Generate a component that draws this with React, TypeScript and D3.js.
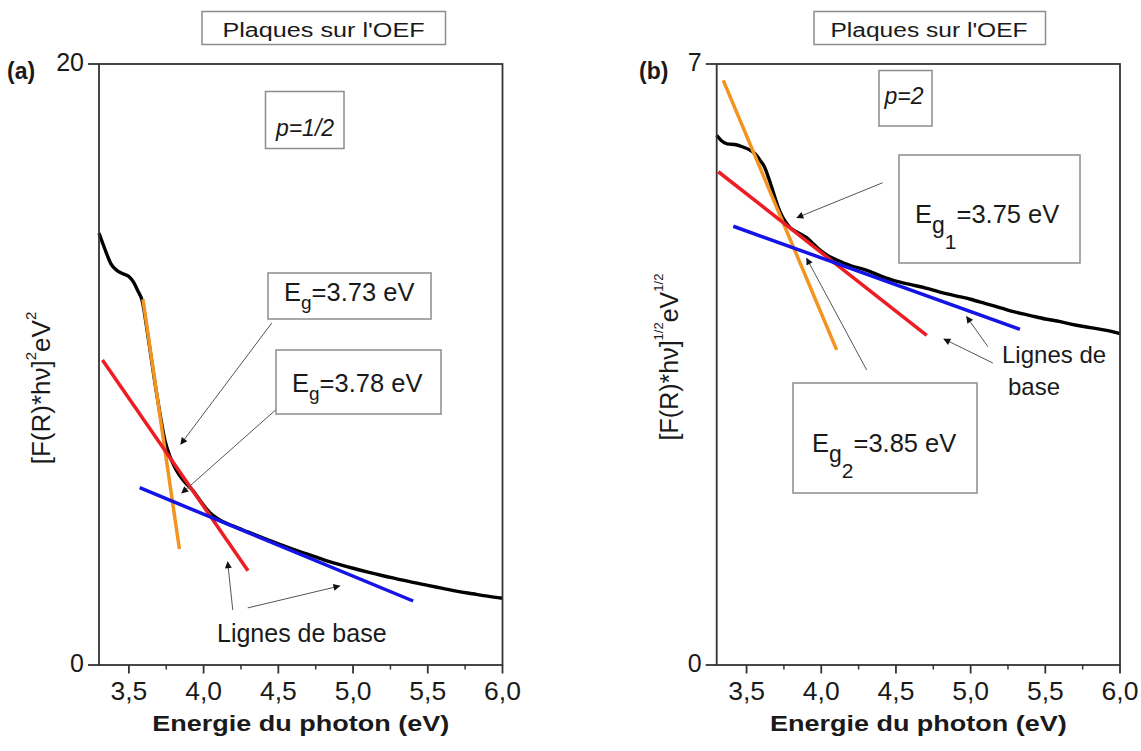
import React from "react";
import * as d3 from "d3";

// ---------- shared axis data ----------
const xDomain: [number, number] = [3.3, 6.0];
const xTickValues = [3.5, 4.0, 4.5, 5.0, 5.5, 6.0];
const xMinorValues = [3.75, 4.25, 4.75, 5.25, 5.75];
const xTickLabels = ["3,5", "4,0", "4,5", "5,0", "5,5", "6,0"];
const xAxisTitle = "Energie du photon (eV)";
const boxTitle = "Plaques sur l'OEF";

// ---------- panel (a) data : p = 1/2 ----------
const aYDomain: [number, number] = [0, 20];
const aYTicks = [0, 20];
const aCurveX = [3.3, 3.32, 3.35, 3.38, 3.42, 3.46, 3.5, 3.53, 3.56, 3.59, 3.62, 3.65, 3.68, 3.71, 3.74, 3.77, 3.8, 3.84, 3.88, 3.93, 3.98, 4.04, 4.1, 4.2, 4.3, 4.4, 4.5, 4.6, 4.7, 4.8, 4.9, 5.0, 5.1, 5.2, 5.3, 5.4, 5.5, 5.6, 5.7, 5.8, 5.9, 6.0];
const aCurveY = [14.37, 14.1, 13.7, 13.35, 13.13, 13.02, 12.93, 12.75, 12.45, 12.1, 11.2, 10.2, 9.2, 8.3, 7.5, 7.0, 6.65, 6.3, 6.05, 5.8, 5.45, 5.08, 4.85, 4.62, 4.42, 4.22, 4.03, 3.85, 3.68, 3.51, 3.36, 3.22, 3.09, 2.97, 2.86, 2.75, 2.65, 2.55, 2.45, 2.37, 2.29, 2.22];
const aOrangeX = [3.594, 3.838];
const aOrangeY = [12.17, 3.86];
const aRedX = [3.323, 4.297];
const aRedY = [10.15, 3.14];
const aBlueX = [3.572, 5.402];
const aBlueY = [5.9, 2.13];
// annotation arrows (data units): [x0, y0, x1, y1]
const aArrows = [
  [4.456, 11.38, 3.847, 7.35],
  [4.496, 8.55, 3.854, 5.72],
  [4.195, 1.83, 4.161, 3.43],
  [4.295, 1.9, 4.911, 2.63],
];

// ---------- panel (b) data : p = 2 ----------
const bYDomain: [number, number] = [0, 7];
const bYTicks = [0, 7];
const bCurveX = [3.3, 3.33, 3.37, 3.43, 3.48, 3.52, 3.56, 3.59, 3.62, 3.65, 3.68, 3.71, 3.74, 3.77, 3.8, 3.85, 3.9, 3.95, 4.0, 4.05, 4.1, 4.2, 4.3, 4.4, 4.5, 4.6, 4.7, 4.8, 4.9, 5.0, 5.1, 5.2, 5.3, 5.4, 5.5, 5.6, 5.7, 5.8, 5.9, 6.0];
const bCurveY = [6.17, 6.11, 6.07, 6.06, 6.03, 6.0, 5.95, 5.88, 5.8, 5.66, 5.5, 5.34, 5.22, 5.14, 5.08, 5.03, 4.98, 4.9, 4.82, 4.76, 4.72, 4.65, 4.6, 4.53, 4.47, 4.43, 4.39, 4.34, 4.3, 4.26, 4.21, 4.16, 4.11, 4.07, 4.03, 4.0, 3.96, 3.93, 3.9, 3.86];
const bOrangeX = [3.344, 4.103];
const bOrangeY = [6.81, 3.67];
const bRedX = [3.311, 4.706];
const bRedY = [5.745, 3.84];
const bBlueX = [3.411, 5.33];
const bBlueY = [5.11, 3.91];
const bArrows = [
  [4.411, 5.617, 3.837, 5.21],
  [4.304, 3.436, 3.902, 4.737],
  [5.116, 3.707, 4.973, 4.057],
  [5.149, 3.517, 4.821, 3.797],
];

// ---------- styles ----------
const FONT = "'Liberation Sans', Arial, Helvetica, sans-serif";
const TEXT = "#1a1a1a";
const AXIS = "#333";
const BOXSTROKE = "#8c8c8c";
const ORANGE = "#f39320";
const RED = "#ee1d23";
const BLUE = "#1414e6";

const zip = (xs: number[], ys: number[]) => xs.map((v, i) => [v, ys[i]] as [number, number]);

function Box({ x, y, w, h }: { x: number; y: number; w: number; h: number }) {
  return <rect x={x} y={y} width={w} height={h} fill="#fff" stroke={BOXSTROKE} strokeWidth={1.5} />;
}

type PanelCfg = {
  id: string;
  left: number;
  right: number;
  top: number;
  bottom: number;
  yDomain: [number, number];
  yTicks: number[];
  curveX: number[];
  curveY: number[];
  orangeX: number[];
  orangeY: number[];
  redX: number[];
  redY: number[];
  blueX: number[];
  blueY: number[];
  arrows: number[][];
};

function Panel({ cfg, children }: { cfg: PanelCfg; children?: React.ReactNode }) {
  const x = d3.scaleLinear().domain(xDomain).range([cfg.left, cfg.right]);
  const y = d3.scaleLinear().domain(cfg.yDomain).range([cfg.bottom, cfg.top]);
  const curve = d3
    .line<[number, number]>()
    .x((d) => x(d[0]))
    .y((d) => y(d[1]))
    .curve(d3.curveMonotoneX);
  const seg = d3
    .line<[number, number]>()
    .x((d) => x(d[0]))
    .y((d) => y(d[1]));
  const cx = (cfg.left + cfg.right) / 2;
  return (
    <g>
      {/* data */}
      <path d={curve(zip(cfg.curveX, cfg.curveY)) || ""} fill="none" stroke="#000" strokeWidth={3.4} strokeLinejoin="round" />
      <path d={seg(zip(cfg.orangeX, cfg.orangeY)) || ""} fill="none" stroke={ORANGE} strokeWidth={3.5} />
      <path d={seg(zip(cfg.redX, cfg.redY)) || ""} fill="none" stroke={RED} strokeWidth={3.5} />
      <path d={seg(zip(cfg.blueX, cfg.blueY)) || ""} fill="none" stroke={BLUE} strokeWidth={3.5} />
      {/* arrows */}
      {cfg.arrows.map((a, i) => (
        <line
          key={i}
          x1={x(a[0])}
          y1={y(a[1])}
          x2={x(a[2])}
          y2={y(a[3])}
          stroke="#555"
          strokeWidth={1}
          markerEnd="url(#arrowhead)"
        />
      ))}
      {/* frame */}
      <rect
        x={cfg.left}
        y={cfg.top}
        width={cfg.right - cfg.left}
        height={cfg.bottom - cfg.top}
        fill="none"
        stroke={AXIS}
        strokeWidth={1.8}
      />
      {/* x ticks */}
      {xTickValues.map((v, i) => (
        <g key={"xt" + i}>
          <line x1={x(v)} x2={x(v)} y1={cfg.bottom} y2={cfg.bottom + 8.5} stroke={AXIS} strokeWidth={1.8} />
          <text
            transform={`translate(${x(v)},${cfg.bottom + 35}) scale(1.06,1)`}
            textAnchor="middle"
            fontFamily={FONT}
            fontSize={25}
            fill={TEXT}
          >
            {xTickLabels[i]}
          </text>
        </g>
      ))}
      {xMinorValues.map((v, i) => (
        <line key={"xm" + i} x1={x(v)} x2={x(v)} y1={cfg.bottom} y2={cfg.bottom + 4.5} stroke={AXIS} strokeWidth={1.5} />
      ))}
      {/* y ticks */}
      {cfg.yTicks.map((v, i) => (
        <g key={"yt" + i}>
          <line x1={cfg.left - 11} x2={cfg.left} y1={y(v)} y2={y(v)} stroke={AXIS} strokeWidth={1.8} />
          <text
            x={cfg.left - 15}
            y={y(v) + 7}
            textAnchor="end"
            fontFamily={FONT}
            fontSize={25}
            fill={TEXT}
          >
            {v}
          </text>
        </g>
      ))}
      {/* x title */}
      <text
        transform={`translate(${cx},${cfg.bottom + 66}) scale(1.2,1)`}
        textAnchor="middle"
        fontFamily={FONT}
        fontWeight="bold"
        fontSize={22.5}
        fill={TEXT}
      >
        {xAxisTitle}
      </text>
      {children}
    </g>
  );
}

const panelA: PanelCfg = {
  id: "a",
  left: 99,
  right: 502.5,
  top: 64,
  bottom: 665,
  yDomain: aYDomain,
  yTicks: aYTicks,
  curveX: aCurveX,
  curveY: aCurveY,
  orangeX: aOrangeX,
  orangeY: aOrangeY,
  redX: aRedX,
  redY: aRedY,
  blueX: aBlueX,
  blueY: aBlueY,
  arrows: aArrows,
};

const panelB: PanelCfg = {
  id: "b",
  left: 716.7,
  right: 1120,
  top: 64,
  bottom: 665,
  yDomain: bYDomain,
  yTicks: bYTicks,
  curveX: bCurveX,
  curveY: bCurveY,
  orangeX: bOrangeX,
  orangeY: bOrangeY,
  redX: bRedX,
  redY: bRedY,
  blueX: bBlueX,
  blueY: bBlueY,
  arrows: bArrows,
};

export default function App() {
  const txt = { fontFamily: FONT, fill: TEXT } as const;
  return (
    <svg
      width={1141}
      height={751}
      viewBox="0 0 1141 751"
      style={{ position: "absolute", left: 0, top: 0, background: "#fff" }}
    >
      <defs>
        <marker
          id="arrowhead"
          viewBox="0 0 10 10"
          refX={9}
          refY={5}
          markerWidth={10}
          markerHeight={7}
          markerUnits="userSpaceOnUse"
          orient="auto"
        >
          <path d="M0,0 L10,5 L0,10 z" fill="#111" />
        </marker>
      </defs>
      <rect x={0} y={0} width={1141} height={751} fill="#fff" />

      {/* ---------------- panel (a) ---------------- */}
      <Panel cfg={panelA}>
        <Box x={202} y={11.5} w={243.5} h={33} />
        <text transform="translate(323.5,37) scale(1.2,1)" textAnchor="middle" fontSize={21} {...txt}>
          {boxTitle}
        </text>
        <text x={7} y={79} fontSize={23} fontWeight="bold" {...txt}>
          (a)
        </text>
        <Box x={265.5} y={91.5} w={78.5} h={57} />
        <text x={305} y={136} textAnchor="middle" fontSize={23} fontStyle="italic" {...txt}>
          p=1/2
        </text>
        <Box x={268} y={273} w={163} h={46} />
        <text x={284} y={301} fontSize={25.5} {...txt}>
          E
          <tspan fontSize={19} dy={8}>g</tspan>
          <tspan dy={-8}>=3.73 eV</tspan>
        </text>
        <Box x={276} y={350} w={165} h={64} />
        <text x={292} y={392} fontSize={25.5} {...txt}>
          E
          <tspan fontSize={19} dy={8}>g</tspan>
          <tspan dy={-8}>=3.78 eV</tspan>
        </text>
        <text x={217} y={642} fontSize={25} {...txt}>
          Lignes de base
        </text>
        <text transform="translate(50,388) rotate(-90)" textAnchor="middle" fontSize={26} {...txt}>
          [F(R)*hν]
          <tspan fontSize={15} dy={-14}>2</tspan>
          <tspan dy={14}>eV</tspan>
          <tspan fontSize={15} dy={-14}>2</tspan>
        </text>
      </Panel>

      {/* ---------------- panel (b) ---------------- */}
      <Panel cfg={panelB}>
        <Box x={814} y={11.5} w={231.5} h={33} />
        <text transform="translate(929,37) scale(1.17,1)" textAnchor="middle" fontSize={21} {...txt}>
          {boxTitle}
        </text>
        <text x={639} y={79} fontSize={23} fontWeight="bold" {...txt}>
          (b)
        </text>
        <Box x={879} y={70.5} w={53} h={55.5} />
        <text x={904} y={104} textAnchor="middle" fontSize={23} fontStyle="italic" {...txt}>
          p=2
        </text>
        <Box x={899} y={155} w={181} h={108} />
        <text x={915} y={223} fontSize={25.5} {...txt}>
          E
          <tspan fontSize={23} dy={10}>g</tspan>
          <tspan fontSize={21} dy={16}>1</tspan>
          <tspan fontSize={25.5} dy={-26}>=3.75 eV</tspan>
        </text>
        <Box x={793} y={383} w={184} h={110} />
        <text x={812} y={452} fontSize={25.5} {...txt}>
          E
          <tspan fontSize={23} dy={10}>g</tspan>
          <tspan fontSize={21} dy={16}>2</tspan>
          <tspan fontSize={25.5} dy={-26}>=3.85 eV</tspan>
        </text>
        <text x={1002} y={363} fontSize={24} {...txt}>
          Lignes de
        </text>
        <text x={1008} y={395} fontSize={24} {...txt}>
          base
        </text>
        <text transform="translate(678,357) rotate(-90)" textAnchor="middle" fontSize={25} {...txt}>
          [F(R)*hν]
          <tspan fontSize={13} dy={-15}>1/2</tspan>
          <tspan dy={15}>eV</tspan>
          <tspan fontSize={13} dy={-15}>1/2</tspan>
        </text>
      </Panel>
    </svg>
  );
}
